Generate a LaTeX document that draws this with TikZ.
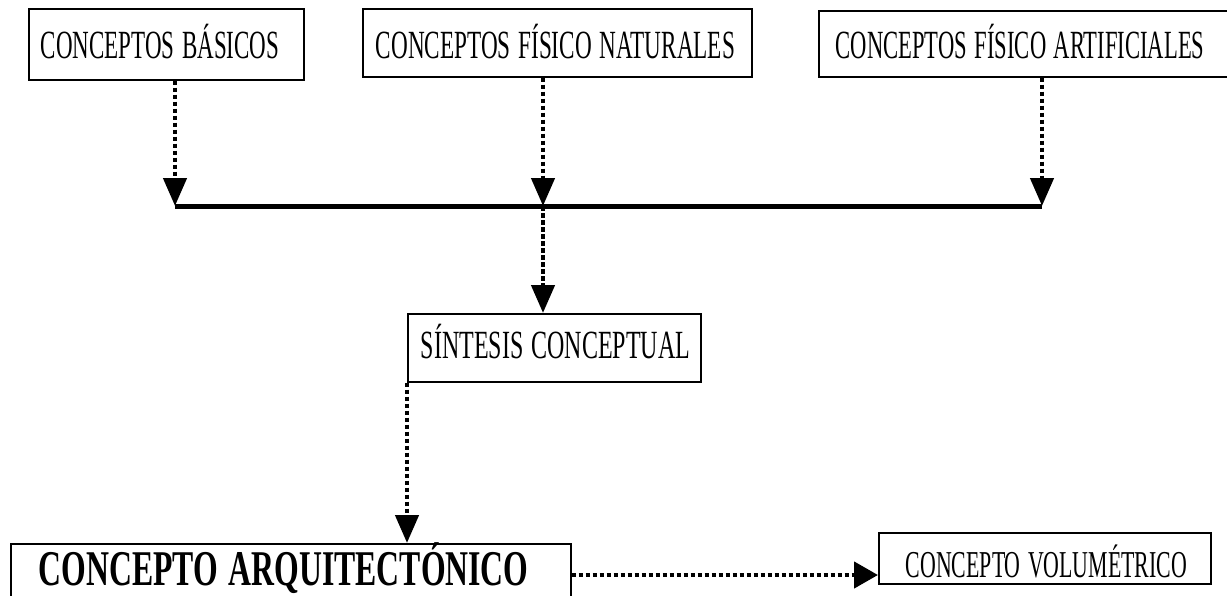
\documentclass[tikz,border=0pt]{standalone}
\usepackage{fontspec}
\usepackage{graphicx}
\setmainfont{Liberation Serif}
\usetikzlibrary{arrows.meta,calc}
\newcommand\narrowtxt[2]{\scalebox{#1}[1]{#2}}
\tikzset{
  box/.style={draw, line width=1.6pt, inner ysep=0pt, anchor=north west, align=left,
    font=\fontsize{40}{44}\selectfont},
  dotarrow/.style={line width=4.5pt, dash pattern=on 4.5pt off 2.5pt,
    -{Triangle[width=23pt,length=28pt]}},
  dotarrowh/.style={line width=4.5pt, dash pattern=on 4.5pt off 2.5pt,
    -{Triangle[width=26pt,length=24pt]}},
  bar/.style={line width=5pt}
}
\begin{document}
\begin{tikzpicture}[x=1pt,y=-1pt]
\useasboundingbox (0,0) rectangle (1227,595);
\clip (0,0) rectangle (1227,595);
\fill[white] (0,0) rectangle (1227,595);
% boxes
\node[box, text width=251pt, inner xsep=12pt, text height=50pt, text depth=21pt] (b1) at (28,8) {\narrowtxt{0.575}{CONCEPTOS BÁSICOS}};
\node[box, text width=363pt, inner xsep=13pt, text height=50pt, text depth=18pt] (b2) at (362,8) {\narrowtxt{0.58}{CONCEPTOS FÍSICO NATURALES}};
\node[box, text width=378pt, inner xsep=17pt, text height=48pt, text depth=18pt] (b3) at (818,10) {\narrowtxt{0.565}{CONCEPTOS FÍSICO ARTIFICIALES}};
\node[box, text width=267pt, inner xsep=13pt, text height=45pt, text depth=23pt] (sin) at (407,313) {\narrowtxt{0.60}{SÍNTESIS CONCEPTUAL}};
\node[box, text width=504pt, inner xsep=28pt, text height=42pt, text depth=11.5pt,
  font=\bfseries\fontsize{50}{54}\selectfont] (arq) at (10,543) {\narrowtxt{0.635}{CONCEPTO ARQUITECTÓNICO}};
\node[box, text width=278pt, inner xsep=27pt, text height=45pt, text depth=6pt,
  font=\fontsize{38}{42}\selectfont] (vol) at (878,532) {\narrowtxt{0.575}{CONCEPTO VOLUMÉTRICO}};
% junction points on the bar
\coordinate (j1) at (175,206);
\coordinate (j2) at (543,206);
\coordinate (j3) at (1042,206);
\coordinate (h) at (0,575);
% connectors
\draw[dotarrow] (j1 |- b1.south) -- (j1);
\draw[dotarrow] (j2 |- b2.south) -- (j2);
\draw[dotarrow] (j3 |- b3.south) -- (j3);
\draw[bar] (j1) -- (j3);
\draw[dotarrow] (j2) -- (j2 |- sin.north);
\draw[dotarrow] (sin.south west) -- (sin.south west |- arq.north);
\draw[dotarrowh] (h -| arq.east) -- (h -| vol.west);
\end{tikzpicture}
\end{document}
